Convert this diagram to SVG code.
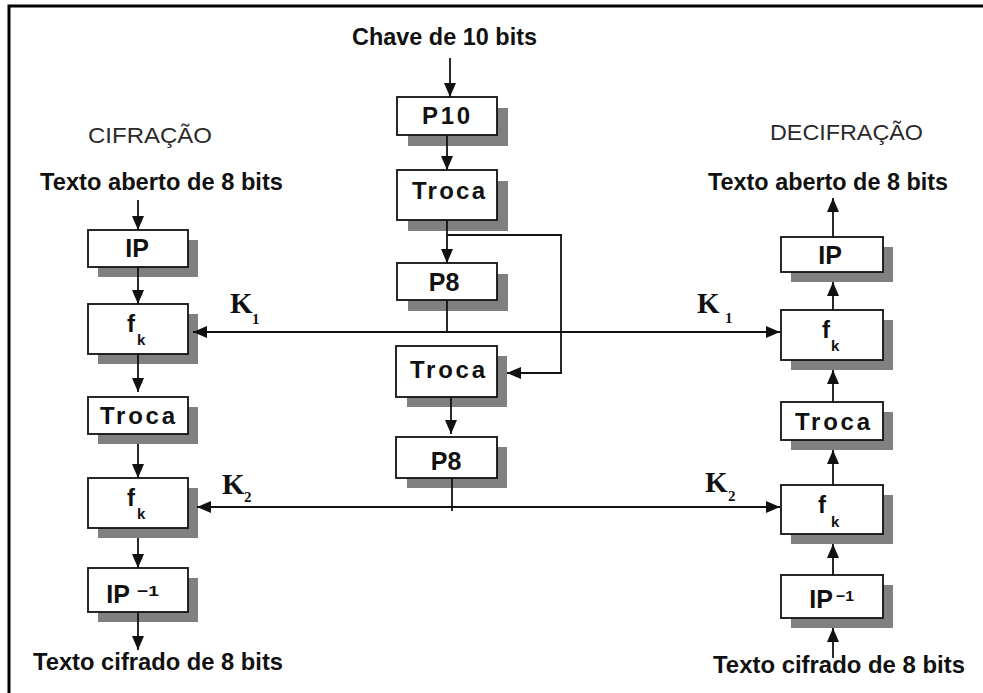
<svg xmlns="http://www.w3.org/2000/svg" width="983" height="693" viewBox="0 0 983 693">
<style>
.frame{stroke:#000;stroke-width:3;fill:none}
.box{fill:#fff;stroke:#111;stroke-width:1.8}
.shadow{fill:#808080}
.lbl{font-family:"Liberation Sans",Arial,sans-serif;font-weight:bold;font-size:24px;fill:#111}
.big{font-family:"Liberation Sans",Arial,sans-serif;font-weight:bold;font-size:25px;fill:#111;text-anchor:middle}
.hdr{font-family:"Liberation Sans",Arial,sans-serif;font-size:22px;fill:#2a2a2a}
.sup{font-family:"Liberation Sans",Arial,sans-serif;font-weight:bold;font-size:15px;fill:#111}
.key{font-family:"Liberation Serif","Times New Roman",serif;font-weight:bold;font-size:29px;fill:#111}
.keysub{font-family:"Liberation Serif","Times New Roman",serif;font-weight:bold;font-size:15px;fill:#111}
.conn path{stroke:#111;stroke-width:1.8;fill:none}
.arr{marker-end:url(#ah)}
</style>
<defs>
<marker id="ah" markerUnits="userSpaceOnUse" markerWidth="14" markerHeight="12" refX="14" refY="6" orient="auto">
<path d="M0,0 L14,6 L0,12 z" fill="#111"/>
</marker>
</defs>
<rect x="0" y="0" width="983" height="693" fill="#fff"/>
<path class="frame" d="M9,693 V6 H983"/>

<!-- headers / free texts -->
<text class="hdr" x="88" y="143" textLength="124" lengthAdjust="spacingAndGlyphs">CIFRAÇÃO</text>
<text class="hdr" x="770" y="140" textLength="153" lengthAdjust="spacingAndGlyphs">DECIFRAÇÃO</text>
<text class="lbl" x="352" y="45" textLength="185" lengthAdjust="spacingAndGlyphs">Chave de 10 bits</text>
<text class="lbl" x="40" y="190" textLength="243" lengthAdjust="spacingAndGlyphs">Texto aberto de 8 bits</text>
<text class="lbl" x="33" y="670" textLength="250" lengthAdjust="spacingAndGlyphs">Texto cifrado de 8 bits</text>
<text class="lbl" x="708" y="190" textLength="240" lengthAdjust="spacingAndGlyphs">Texto aberto de 8 bits</text>
<text class="lbl" x="713" y="673" textLength="252" lengthAdjust="spacingAndGlyphs">Texto cifrado de 8 bits</text>

<!-- key labels -->
<g id="k1-left"><text class="key" x="230" y="313">K</text><text class="keysub" x="252" y="324">1</text></g>
<g id="k2-left"><text class="key" x="222" y="494">K</text><text class="keysub" x="244" y="502">2</text></g>
<g id="k1-right"><text class="key" x="697" y="313">K</text><text class="keysub" x="725" y="323">1</text></g>
<g id="k2-right"><text class="key" x="705" y="492">K</text><text class="keysub" x="728" y="501">2</text></g>

<!-- left column -->
<g id="enc-ip"><rect class="shadow" x="98" y="240" width="100" height="37"/><rect class="box" x="88" y="230" width="100" height="37"/><text class="big" x="137" y="257">IP</text></g>
<g id="enc-fk1"><rect class="shadow" x="98" y="314" width="100" height="50"/><rect class="box" x="88" y="304" width="100" height="50"/><text class="lbl" x="127" y="332">f</text><text class="sup" x="137" y="345">k</text></g>
<g id="enc-troca"><rect class="shadow" x="98" y="407" width="100" height="37"/><rect class="box" x="88" y="397" width="100" height="37"/><text class="lbl" x="100" y="424" textLength="75" lengthAdjust="spacing">Troca</text></g>
<g id="enc-fk2"><rect class="shadow" x="98" y="488" width="100" height="50"/><rect class="box" x="88" y="478" width="100" height="50"/><text class="lbl" x="127" y="506">f</text><text class="sup" x="137" y="519">k</text></g>
<g id="enc-ipinv"><rect class="shadow" x="98" y="578" width="100" height="44"/><rect class="box" x="88" y="568" width="100" height="44"/><text class="big" x="118" y="603">IP</text><text class="sup" x="137" y="596" textLength="22" lengthAdjust="spacingAndGlyphs">−1</text></g>

<!-- middle column -->
<g id="key-p10"><rect class="shadow" x="408" y="108" width="100" height="38"/><rect class="box" x="397" y="97" width="100" height="38"/><text class="lbl" x="422" y="124" textLength="48" lengthAdjust="spacing">P10</text></g>
<g id="key-troca1"><rect class="shadow" x="408" y="181" width="100" height="50"/><rect class="box" x="397" y="170" width="100" height="50"/><text class="lbl" x="412" y="199" textLength="73" lengthAdjust="spacing">Troca</text></g>
<g id="key-p8a"><rect class="shadow" x="408" y="274" width="100" height="37"/><rect class="box" x="397" y="263" width="100" height="37"/><text class="big" x="444" y="291">P8</text></g>
<g id="key-troca2"><rect class="shadow" x="407" y="356" width="100" height="51"/><rect class="box" x="396" y="346" width="101" height="51"/><text class="lbl" x="410" y="378" textLength="75" lengthAdjust="spacing">Troca</text></g>
<g id="key-p8b"><rect class="shadow" x="407" y="447" width="100" height="41"/><rect class="box" x="396" y="437" width="101" height="41"/><text class="big" x="446" y="470">P8</text></g>

<!-- right column -->
<g id="dec-ip"><rect class="shadow" x="791" y="247" width="102" height="35"/><rect class="box" x="781" y="237" width="102" height="35"/><text class="big" x="830" y="264">IP</text></g>
<g id="dec-fk1"><rect class="shadow" x="791" y="320" width="102" height="50"/><rect class="box" x="781" y="310" width="102" height="50"/><text class="lbl" x="822" y="338">f</text><text class="sup" x="831" y="351">k</text></g>
<g id="dec-troca"><rect class="shadow" x="791" y="412" width="102" height="38"/><rect class="box" x="781" y="402" width="102" height="38"/><text class="lbl" x="795" y="430" textLength="75" lengthAdjust="spacing">Troca</text></g>
<g id="dec-fk2"><rect class="shadow" x="791" y="495" width="102" height="49"/><rect class="box" x="781" y="485" width="102" height="49"/><text class="lbl" x="818" y="513">f</text><text class="sup" x="831" y="527">k</text></g>
<g id="dec-ipinv"><rect class="shadow" x="791" y="585" width="102" height="43"/><rect class="box" x="781" y="575" width="102" height="43"/><text class="big" x="821" y="608">IP</text><text class="sup" x="836" y="601" textLength="18" lengthAdjust="spacingAndGlyphs">−1</text></g>

<!-- connectors -->
<g class="conn">
<path class="arr" d="M138,200 V230"/>
<path class="arr" d="M138,267 V304"/>
<path class="arr" d="M138,354 V392"/>
<path class="arr" d="M138,444 V478"/>
<path class="arr" d="M138,538 V568"/>
<path class="arr" d="M138,612 V650"/>

<path class="arr" d="M450,58 V97"/>
<path class="arr" d="M447,135 V170"/>
<path class="arr" d="M447,220 V263"/>
<path d="M447,300 V332"/>
<path class="arr" d="M447,235 H561 V373 H507"/>
<path class="arr" d="M451,397 V434"/>
<path d="M452,478 V511"/>

<path class="arr" d="M447,332 H193"/>
<path class="arr" d="M447,332 H780"/>
<path class="arr" d="M452,507 H197"/>
<path class="arr" d="M452,507 H780"/>

<path class="arr" d="M833,237 V198"/>
<path class="arr" d="M833,310 V282"/>
<path class="arr" d="M833,402 V370"/>
<path class="arr" d="M833,485 V450"/>
<path class="arr" d="M833,575 V544"/>
<path class="arr" d="M833,658 V628"/>
</g>
</svg>
